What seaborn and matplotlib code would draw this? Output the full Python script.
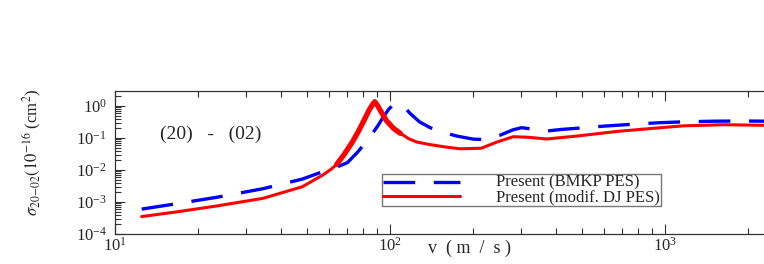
import numpy as np
import pandas as pd
import matplotlib
matplotlib.use("Agg")
import matplotlib.pyplot as plt
import seaborn as sns

# velocity (m/s) and cross sections (1e-16 cm^2)
v_bmkp = [12.5, 17, 23.4, 34.5, 48, 57, 62, 70, 76, 80, 84.6, 90, 94.5, 99, 103, 107,
          112, 118, 128, 140, 152, 175, 201, 219, 250, 280, 301, 330, 371, 420, 491,
          600, 767, 950, 1170, 1500, 1930, 2800]
s_bmkp = [6.0e-4, 9.0e-4, 1.4e-3, 2.6e-3, 5.2e-3, 8.9e-3, 1.1e-2, 1.7e-2, 3.5e-2, 6.0e-2,
          0.11, 0.23, 0.45, 0.8, 1.1, 1.21, 1.0, 0.6, 0.32, 0.21, 0.16, 0.115, 0.092,
          0.09, 0.12, 0.18, 0.21, 0.19, 0.165, 0.185, 0.205, 0.235, 0.27, 0.3, 0.32,
          0.335, 0.34, 0.33]

v_dj = [12.5, 17, 23.4, 34.5, 48, 57, 61, 64, 68, 73, 77, 81, 84, 86, 88, 90, 92, 97,
        103, 109, 117, 125, 140, 160, 180, 215, 245, 281, 320, 371, 478, 667, 900,
        1167, 1630, 2270, 2800]
s_dj = [3.5e-4, 5.0e-4, 7.5e-4, 1.3e-3, 3.0e-3, 7.0e-3, 1.05e-2, 1.5e-2, 3.0e-2,
        7.5e-2, 0.17, 0.4, 0.75, 1.05, 1.36, 1.05, 0.75, 0.35, 0.2, 0.14, 0.095, 0.075,
        0.062, 0.052, 0.046, 0.048, 0.075, 0.11, 0.105, 0.093, 0.115, 0.16, 0.2, 0.24,
        0.26, 0.25, 0.24]

peak_lo, peak_hi = 62, 110  # red curve is drawn heavier around the resonance

sns.set_style("ticks")
plt.rcParams["font.family"] = ["Liberation Serif", "DejaVu Serif"]
plt.rcParams["mathtext.fontset"] = "stix"

fig = plt.figure(figsize=(7.64, 2.64), dpi=100)
# axes run past the right edge of the figure, as in the reference
ax = fig.add_axes([115 / 764, 30 / 264, 675 / 764, 143 / 264])

df_b = pd.DataFrame({"v": v_bmkp, "s": s_bmkp})
df_d = pd.DataFrame({"v": v_dj, "s": s_dj})

sns.lineplot(data=df_b, x="v", y="s", ax=ax, color="#0000ff", lw=2.4,
             sort=False, estimator=None, label="Present (BMKP PES)")
ax.lines[-1].set_dashes((9.5, 5.6))
sns.lineplot(data=df_d, x="v", y="s", ax=ax, color="#ff0000", lw=2.2,
             sort=False, estimator=None, label="Present (modif. DJ PES)")
pk = df_d[(df_d.v >= peak_lo) & (df_d.v <= peak_hi)]
sns.lineplot(data=pk, x="v", y="s", ax=ax, color="#ff0000", lw=3.8,
             sort=False, estimator=None, legend=False)

ax.set_xscale("log")
ax.set_yscale("log")
ax.set_xlim(10, 10 ** (1 + 675 / 275))
ax.set_ylim(1e-4, 10 ** (0 + 15 / 32))
ax.set_xticks([10, 100, 1000])
ax.set_yticks([1e-4, 1e-3, 1e-2, 1e-1, 1e0])
ax.yaxis.set_minor_locator(matplotlib.ticker.LogLocator(base=10, subs=np.arange(2, 10)))
ax.xaxis.set_minor_locator(matplotlib.ticker.LogLocator(base=10, subs=np.arange(2, 10)))
ax.yaxis.set_minor_formatter(matplotlib.ticker.NullFormatter())
ax.xaxis.set_minor_formatter(matplotlib.ticker.NullFormatter())
ax.tick_params(which="both", direction="in", top=True, right=True,
               labelsize=12, color="#333333", width=0.8)
ax.tick_params(which="major", length=7)
ax.tick_params(which="minor", length=4)
ax.tick_params(axis="y", pad=6)
ax.tick_params(axis="x", pad=2)
for sp in ax.spines.values():
    sp.set_color("#333333")
    sp.set_linewidth(0.9)

ax.set_xlabel("")
ax.set_ylabel("")
fig.text(470 / 764, 1 - 248 / 264, "v  ( m  /  s )", ha="center", va="center", fontsize=13)
fig.text(32 / 764, 1 - 152 / 264, r"$\sigma_{20\!-\!02}(10^{-16}$ (cm$^{2}$)",
         rotation=90, ha="center", va="center", fontsize=12)
ax.text((160 - 115) / 675, (234 - 134) / 143, "(20)   -   (02)", transform=ax.transAxes,
        ha="left", va="center", fontsize=14)

leg = ax.legend(loc="upper left", bbox_to_anchor=((382 - 115) / 675, (234 - 174) / 143),
                frameon=True, fancybox=False, fontsize=12, handlelength=4.6,
                borderpad=0.05, labelspacing=-0.1, handletextpad=2.2, borderaxespad=0,
                handleheight=0.5)
leg.get_frame().set_edgecolor("#555555")
leg.get_frame().set_linewidth(1.0)

fig.savefig("out.png", dpi=100)
